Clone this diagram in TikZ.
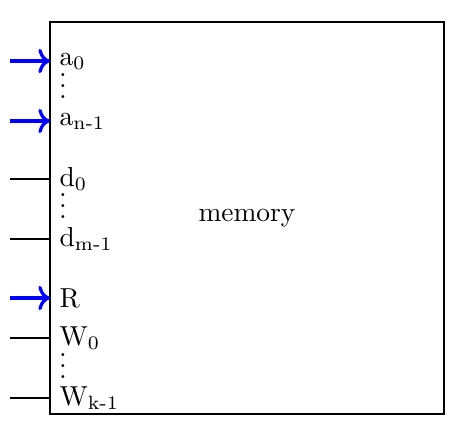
\documentclass[tikz,border=0pt]{standalone}
\usepackage{amsmath}
\usepackage{tikz}
\usetikzlibrary{arrows.meta,positioning}

\begin{document}
\begin{tikzpicture}[x=0.0128cm,y=-0.0128cm,
  arrowin/.style={->,very thick,blue},
  wirein/.style={thin},
  lbl/.style={anchor=west},
  dotsnode/.style={anchor=south,inner sep=0pt}]
\useasboundingbox (0,0) rectangle (458,437);
% the memory block
\node[draw,semithick,minimum width=5.043cm,minimum height=5.018cm,inner sep=0pt] (mem) at (247,218) {memory};
% port labels along the left side
\foreach \name/\y/\txt/\kind in {a0/61/{a$_{0}$}/arrowin, an/121/{a$_{\text{n-1}}$}/arrowin,
  d0/179/{d$_{0}$}/wirein, dm/239/{d$_{\text{m-1}}$}/wirein,
  r/298/{R}/arrowin,
  w0/338/{W$_{0}$}/wirein, wk/398/{W$_{\text{k-1}}$}/wirein} {
  \node[lbl] (\name) at (50,\y) {\txt};
  \coordinate (s-\name) at (10,\y);
  \draw[\kind] (s-\name) -- (\name.west);
}
\node[dotsnode] (va) at (63,99.5) {$\vdots$};
\node[dotsnode] (vd) at (63,219.5) {$\vdots$};
\node[dotsnode] (vw) at (63,379.5) {$\vdots$};
\end{tikzpicture}
\end{document}
